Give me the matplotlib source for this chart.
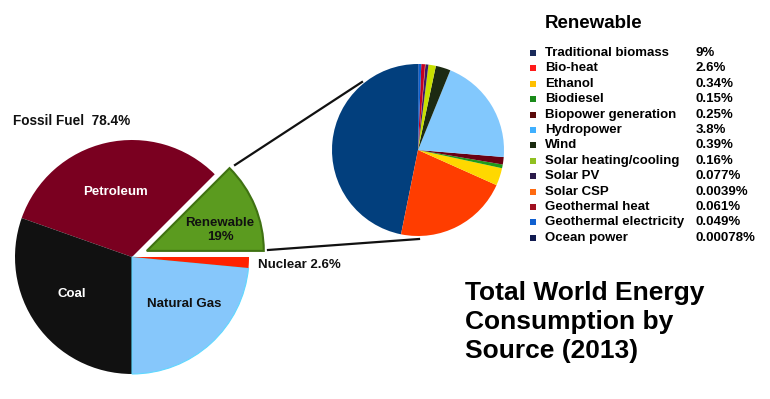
import matplotlib.pyplot as plt

plt.rcParams['font.family'] = ['Liberation Sans', 'DejaVu Sans']

W, H = 770, 399

# main pie (shares as drawn, counterclockwise from 3 o'clock)
main_names = ['Renewable', 'Petroleum', 'Coal', 'Natural Gas', 'Nuclear']
main_share = [12.5, 32.1, 30.4, 23.5, 1.5]
main_colors = ['#5b9b1f', '#7a0020', '#111111', '#86c7fb', '#ff2200']
main_explode = [16, 0, 0, 0, 0]   # pixels, pie() offsets in data units

# renewable breakdown (legend text values, drawn shares)
ren_names = ['Traditional biomass', 'Bio-heat', 'Ethanol', 'Biodiesel',
             'Biopower generation', 'Hydropower', 'Wind',
             'Solar heating/cooling', 'Solar PV', 'Solar CSP',
             'Geothermal heat', 'Geothermal electricity', 'Ocean power']
ren_values = ['9%', '2.6%', '0.34%', '0.15%', '0.25%', '3.8%', '0.39%',
              '0.16%', '0.077%', '0.0039%', '0.061%', '0.049%', '0.00078%']
ren_share = [46.9, 21.5, 3.3, 0.7, 1.4, 20.2, 2.8, 1.4, 0.55, 0.08, 0.7, 0.55, 0.06]
ren_colors = ['#023f7d', '#ff3d00', '#ffd800', '#1f9a1a', '#6a0012', '#82c8fd',
              '#1c2a12', '#c8e000', '#3a1a6a', '#ff7000', '#c40020', '#0a62d0',
              '#101a50']
ren_marker = ['#1a2a5a', '#ff1a1a', '#ffc000', '#1a8a1a', '#5a0a0a', '#40b0ff',
              '#1a2a10', '#90c020', '#2a1a4a', '#ff6a10', '#a01020', '#1060d0',
              '#101a50']


def Y(y):
    return H - y


fig = plt.figure(figsize=(W / 100, H / 100), dpi=100)
ax = fig.add_axes([0, 0, 1, 1])

wedges, _ = ax.pie(main_share, colors=main_colors, explode=main_explode,
                   startangle=0, counterclock=True, center=(132, Y(257)),
                   radius=117, frame=True)
wedges[0].set_edgecolor('#3f7212')
wedges[0].set_linewidth(1.5)
wedges[3].set_edgecolor('#5fd8ff')
wedges[3].set_linewidth(0.8)

ax.pie(ren_share, colors=ren_colors, startangle=90, counterclock=True,
       center=(418, Y(150)), radius=86, frame=True)
ax.set_xlim(0, W)
ax.set_ylim(0, H)
ax.axis('off')

# zoom lines
ax.plot([235, 362], [Y(165), Y(82)], color='#111111', lw=1.6)
ax.plot([268, 419], [Y(250), Y(239)], color='#111111', lw=1.6)

bold = dict(fontweight='bold')
ax.text(115, Y(192), 'Petroleum', color='white', fontsize=9.5, ha='center', va='center', **bold)
ax.text(72, Y(294), 'Coal', color='white', fontsize=9.5, ha='center', va='center', **bold)
ax.text(184, Y(304), 'Natural Gas', color='#111111', fontsize=9.5, ha='center', va='center', **bold)
ax.text(220, Y(230), 'Renewable\n19%', color='#111111', fontsize=9.5, ha='center', va='center',
        linespacing=1.15, **bold)
ax.text(258, Y(265), 'Nuclear 2.6%', color='#111111', fontsize=9.5, ha='left', va='center', **bold)
ax.text(13, Y(121), 'Fossil Fuel  78.4%', color='#111111', fontsize=9.8, ha='left', va='center', **bold)

# legend
ax.text(545, Y(24), 'Renewable', fontsize=13.5, ha='left', va='center', **bold)
for i, (n, v, c) in enumerate(zip(ren_names, ren_values, ren_marker)):
    y = Y(53 + i * 15.4)
    ax.scatter([533], [y], marker='s', s=18, color=c, linewidths=0)
    ax.text(545, y, n, fontsize=9.5, ha='left', va='center', **bold)
    ax.text(696, y, v, fontsize=9.5, ha='left', va='center', **bold)

ax.text(465, Y(322), 'Total World Energy\nConsumption by\nSource (2013)', fontsize=19,
        ha='left', va='center', linespacing=1.27, **bold)

fig.savefig('out.png', dpi=100)
